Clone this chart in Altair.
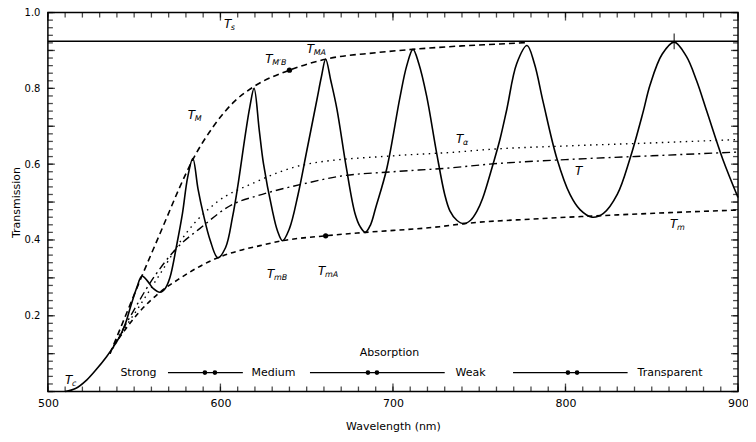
import altair as alt
import pandas as pd

# ---- data ----
curve_wl = [510, 516, 522.6, 528, 534, 539, 542, 545, 548, 551.6, 554.5, 558, 561, 565, 568, 570.7, 574.8, 578,
            581, 584, 587, 590, 594, 598.5, 603, 607, 610, 614.5, 617, 619.5, 622.5, 625, 630, 633, 636, 640,
            645, 650, 656, 658.5, 661, 664, 667.5, 673, 678, 681, 684, 687, 690, 696.5, 704, 708, 711.6, 715,
            719.5, 725.3, 730, 733, 737, 741, 745, 748.7, 752, 758, 762, 766, 771.7, 777.7, 782, 787, 795,
            802.6, 808.4, 815.4, 822, 830, 837.4, 845, 849, 856, 863, 870, 876, 882, 891, 900]
curve_t = [0.0, 0.008, 0.031, 0.058, 0.092, 0.125, 0.148, 0.18, 0.225, 0.275, 0.305, 0.29, 0.272, 0.262, 0.272,
           0.30, 0.39, 0.47, 0.565, 0.615, 0.535, 0.47, 0.40, 0.353, 0.38, 0.46, 0.54, 0.68, 0.75, 0.80, 0.69,
           0.60, 0.48, 0.425, 0.398, 0.43, 0.52, 0.634, 0.772, 0.83, 0.877, 0.82, 0.746, 0.59, 0.47, 0.435,
           0.42, 0.44, 0.485, 0.59, 0.775, 0.86, 0.903, 0.865, 0.78, 0.63, 0.52, 0.477, 0.452, 0.443, 0.452,
           0.476, 0.51, 0.60, 0.665, 0.745, 0.865, 0.913, 0.865, 0.765, 0.615, 0.52, 0.48, 0.46, 0.47, 0.52,
           0.615, 0.738, 0.809, 0.89, 0.922, 0.885, 0.82, 0.738, 0.615, 0.512]

tmax_wl = [536, 545, 554.5, 562, 569, 576, 584, 596, 608, 619.5, 640, 661, 690, 711.6, 740, 762, 778]
tmax_t = [0.10, 0.20, 0.305, 0.385, 0.46, 0.535, 0.612, 0.70, 0.765, 0.805, 0.848, 0.877, 0.894, 0.903, 0.912,
          0.917, 0.921]

tmin_wl = [541, 553, 565, 577, 590, 598.5, 611, 623, 636, 661, 684, 727, 741, 780, 815, 860, 900]
tmin_t = [0.14, 0.21, 0.262, 0.30, 0.335, 0.353, 0.372, 0.385, 0.398, 0.411, 0.42, 0.435, 0.443, 0.455, 0.463,
          0.472, 0.479]

talpha_wl = [536, 545, 553, 565, 580.5, 598, 619, 650, 700, 737, 756, 800, 850, 900]
talpha_t = [0.10, 0.17, 0.225, 0.31, 0.42, 0.50, 0.55, 0.60, 0.622, 0.632, 0.639, 0.648, 0.656, 0.665]

ti_wl = [538, 548, 559, 575, 588, 607, 621, 650, 669, 700, 733, 756, 800, 850, 900]
ti_t = [0.12, 0.2, 0.285, 0.38, 0.43, 0.494, 0.516, 0.55, 0.568, 0.58, 0.59, 0.60, 0.612, 0.622, 0.632]

ts_value = 0.924
peak_mark_wl = [863]
peak_mark_t = [0.924]

dot_wl = [640, 661]
dot_t = [0.848, 0.411]

label_wl = [602, 581, 626, 650, 736.5, 805.5, 860.6, 509.9, 627, 656.5]
label_t = [0.969, 0.73, 0.877, 0.904, 0.666, 0.583, 0.443, 0.031, 0.31, 0.319]
label_main = ["T", "T", "T", "T", "T", "T", "T", "T", "T", "T"]
label_sub = ["s", "M", "M′B", "MA", "α", "", "m", "c", "mB", "mA"]

absorb_title = "Absorption"
absorb_title_wl = [698]
absorb_title_t = [0.102]
region_names = ["Strong", "Medium", "Weak", "Transparent"]
region_name_wl = [552.5, 630.7, 745, 860.6]
region_row_t = 0.05
bar_start = [569.6, 651.9, 769.6]
bar_end = [613, 730, 836]
bar_dot_left = [591, 685.5, 801.4]
bar_dot_right = [596.8, 690.7, 806.7]

# axis tick values
x_minor_ticks = list(range(500, 901, 10))
x_major_ticks = [500, 600, 700, 800, 900]
x_tick_labels = [500, 600, 700, 800, 900]
y_minor_ticks = [round(i * 0.02, 2) for i in range(0, 51)]
y_major_ticks = [round(i * 0.1, 1) for i in range(0, 11)]
y_tick_labels = [0.2, 0.4, 0.6, 0.8, 1.0]

# ---- build ----
W, H = 692, 380
X0, X1, Y0, Y1 = 500, 900, 0.0, 1.0
FONT = "DejaVu Sans"
xs = alt.Scale(domain=[X0, X1], nice=False, zero=False)
ys = alt.Scale(domain=[Y0, Y1], nice=False, zero=False)


def df(wl, t):
    return pd.DataFrame({"wl": wl, "t": t})


XN = dict(scale=xs, axis=None)
YN = dict(scale=ys, axis=None)

# main axes (outer labels, with outward ticks as a fallback frame) on the curve layer
curve = alt.Chart(df(curve_wl, curve_t)).mark_line(color="black", strokeWidth=1.6,
                                                   interpolate="catmull-rom").encode(
    x=alt.X("wl:Q", scale=xs, axis=alt.Axis(values=x_minor_ticks, tickSize=0, domain=False, grid=False,
                                            labelExpr="datum.value % 100 == 0 ? datum.label : ''",
                                            labelFlush=False, title="Wavelength (nm)", labelFont=FONT,
                                            labelFontSize=11, labelPadding=6, titleFont=FONT,
                                            titleFontSize=11, titleFontWeight="normal", titlePadding=12,
                                            labelColor="black", titleColor="black", labelOverlap=False)),
    y=alt.Y("t:Q", scale=ys, axis=alt.Axis(values=y_tick_labels, format=".1f", tickSize=0, labelFlush=False,
                                           domain=False, grid=False, title="Transmission", labelFont=FONT,
                                           labelFontSize=10, labelPadding=8, titleFont=FONT, titleFontSize=11,
                                           titleFontWeight="normal", titlePadding=3, labelColor="black",
                                           titleColor="black")),
    order="wl:Q",
)

tmax = alt.Chart(df(tmax_wl, tmax_t)).mark_line(color="black", strokeWidth=1.6, strokeDash=[6, 4],
                                                interpolate="monotone").encode(
    x=alt.X("wl:Q", **XN), y=alt.Y("t:Q", **YN))

tmin = alt.Chart(df(tmin_wl, tmin_t)).mark_line(color="black", strokeWidth=1.6, strokeDash=[5, 4],
                                                interpolate="monotone").encode(
    x=alt.X("wl:Q", **XN), y=alt.Y("t:Q", **YN))

talpha = alt.Chart(df(talpha_wl, talpha_t)).mark_line(color="black", strokeWidth=1.4, strokeDash=[1.5, 4.5],
                                                      interpolate="monotone").encode(
    x=alt.X("wl:Q", **XN), y=alt.Y("t:Q", **YN))

ti = alt.Chart(df(ti_wl, ti_t)).mark_line(color="black", strokeWidth=1.4, strokeDash=[8, 4, 2, 4],
                                          interpolate="monotone").encode(
    x=alt.X("wl:Q", **XN), y=alt.Y("t:Q", **YN))

ts_rule = alt.Chart(pd.DataFrame({"t": [ts_value]})).mark_rule(color="black", strokeWidth=1.5).encode(
    y=alt.Y("t:Q", **YN))

peak_tick = alt.Chart(df(peak_mark_wl, peak_mark_t)).mark_tick(color="black", orient="vertical", size=16,
                                                               thickness=1.4).encode(
    x=alt.X("wl:Q", **XN), y=alt.Y("t:Q", **YN))

dots = alt.Chart(df(dot_wl, dot_t)).mark_circle(color="black", size=28, opacity=1).encode(
    x=alt.X("wl:Q", **XN), y=alt.Y("t:Q", **YN))

# inward ticks on all four sides: short tick marks through the shared scales
xt_df = pd.DataFrame({"wl": x_minor_ticks})
xtM_df = pd.DataFrame({"wl": x_major_ticks})
yt_df = pd.DataFrame({"t": y_minor_ticks})
ytM_df = pd.DataFrame({"t": y_major_ticks})


def xtick(d, ln, top):
    return alt.Chart(d).mark_tick(color="black", thickness=1.3, size=ln, orient="vertical",
                                  yOffset=(ln / 2 if top else -ln / 2)).encode(
        x=alt.X("wl:Q", **XN),
        y=alt.Y("e:Q", **YN),
    ).transform_calculate(e=str(Y1 if top else Y0))


def ytick(d, ln, right):
    return alt.Chart(d).mark_tick(color="black", thickness=1.3, size=ln, orient="horizontal",
                                  xOffset=(-ln / 2 if right else ln / 2)).encode(
        y=alt.Y("t:Q", **YN),
        x=alt.X("e:Q", **XN),
    ).transform_calculate(e=str(X1 if right else X0))


tick_layers = [xtick(xt_df, 5, False), xtick(xt_df, 5, True), xtick(xtM_df, 8, False), xtick(xtM_df, 8, True),
               ytick(yt_df, 5, False), ytick(yt_df, 5, True), ytick(ytM_df, 7, False), ytick(ytM_df, 7, True)]

labels_df = pd.DataFrame({"wl": label_wl, "t": label_t, "main": label_main, "sub": label_sub})
lab_main = alt.Chart(labels_df).mark_text(font=FONT, fontSize=12, fontStyle="italic", align="left",
                                          baseline="middle", color="black").encode(
    x=alt.X("wl:Q", **XN), y=alt.Y("t:Q", **YN), text="main:N")
lab_sub = alt.Chart(labels_df).mark_text(font=FONT, fontSize=8, fontStyle="italic", align="left",
                                         baseline="middle", color="black", dx=7, dy=4).encode(
    x=alt.X("wl:Q", **XN), y=alt.Y("t:Q", **YN), text="sub:N")

abs_title = alt.Chart(pd.DataFrame({"wl": absorb_title_wl, "t": absorb_title_t, "txt": [absorb_title]})).mark_text(
    font=FONT, fontSize=11, align="center", baseline="middle", color="black").encode(
    x=alt.X("wl:Q", **XN), y=alt.Y("t:Q", **YN), text="txt:N")

names_df = pd.DataFrame({"wl": region_name_wl, "t": [region_row_t] * len(region_name_wl), "txt": region_names})
region_text = alt.Chart(names_df).mark_text(font=FONT, fontSize=11, align="center", baseline="middle",
                                            color="black").encode(
    x=alt.X("wl:Q", **XN), y=alt.Y("t:Q", **YN), text="txt:N")

bars_df = pd.DataFrame({"a": bar_start, "b": bar_end, "t": [region_row_t] * len(bar_start)})
bars = alt.Chart(bars_df).mark_rule(color="black", strokeWidth=1.2).encode(
    x=alt.X("a:Q", **XN), x2="b:Q", y=alt.Y("t:Q", **YN))

bd_df = pd.DataFrame({"wl": bar_dot_left + bar_dot_right, "t": [region_row_t] * (2 * len(bar_dot_left))})
bar_dots = alt.Chart(bd_df).mark_circle(color="black", size=22, opacity=1).encode(
    x=alt.X("wl:Q", **XN), y=alt.Y("t:Q", **YN))

chart = alt.layer(
    curve, *tick_layers, tmax, tmin, talpha, ti, ts_rule, peak_tick, dots, lab_main, lab_sub,
    abs_title, region_text, bars, bar_dots,
).resolve_axis(x="independent", y="independent").properties(
    width=W, height=H, autosize=alt.AutoSizeParams(type="none"),
    padding={"left": 40, "top": 4, "right": 10, "bottom": 46},
    background="white",
).configure_view(stroke="black", strokeWidth=1.5)

chart.save("out.html", embed_options={"renderer": "svg", "actions": False})
